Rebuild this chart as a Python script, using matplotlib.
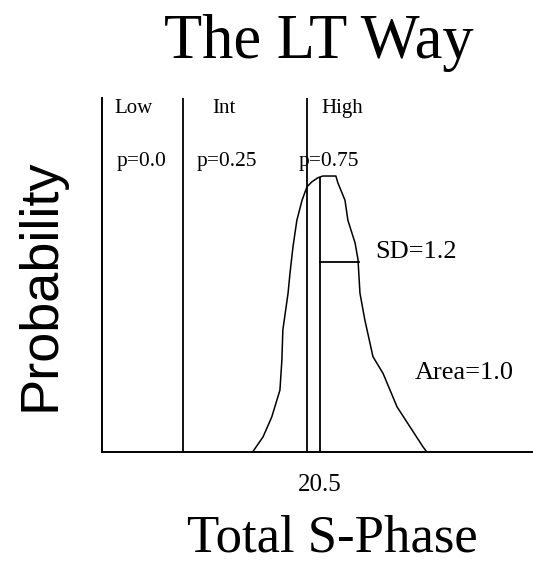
import matplotlib
matplotlib.use("Agg")
import matplotlib.pyplot as plt
import numpy as np

# density curve traced as (x, y) pairs
curve_x = [18.43, 18.75, 19.02, 19.27, 19.33, 19.36, 19.52, 19.58, 19.67, 19.79,
           19.95, 20.10, 20.25, 20.44, 20.59, 20.99, 21.05, 21.27, 21.36, 21.58,
           21.67, 21.73, 21.88, 22.13, 22.44, 22.87, 23.27, 23.67, 23.79]
curve_y = [0.000, 0.018, 0.042, 0.074, 0.110, 0.146, 0.190, 0.214, 0.245, 0.277,
           0.301, 0.317, 0.323, 0.328, 0.330, 0.330, 0.322, 0.301, 0.277, 0.250,
           0.230, 0.190, 0.158, 0.114, 0.094, 0.054, 0.030, 0.006, 0.000]

mean = 20.5
sd = 1.2
sd_height = 0.227
mean_height = 0.328

# category boundaries and labels
boundaries = [16.28, 20.10]
categories = ["Low", "Int", "High"]
cat_x = [14.78, 17.56, 21.19]
probs = ["p=0.0", "p=0.25", "p=0.75"]
prob_x = [15.01, 17.65, 20.76]

xmin, xmax = 13.8, 27.05
ymax = 0.4233

serif = "Liberation Serif"
sans = "Liberation Sans"

fig = plt.figure(figsize=(5.33, 5.62), dpi=100)
W, H = 533, 562
ax = fig.add_axes([102 / W, (H - 452) / H, (W - 102) / W, (452 - 98) / H])

ax.plot(curve_x, curve_y, color="black", lw=1.1)
ax.plot([mean, mean], [0, mean_height], color="black", lw=1.3)
ax.plot([mean, mean + sd], [sd_height, sd_height], color="black", lw=1.3)
for b in boundaries:
    ax.axvline(b, color="black", lw=1.3)

for name, x in zip(categories, cat_x):
    ax.text(x, 0.411, name, ha="center", va="center", family=serif, fontsize=15)
for name, x in zip(probs, prob_x):
    ax.text(x, 0.347, name, ha="center", va="center", family=serif, fontsize=15.5)

ax.text(22.19, 0.239, "SD=%.1f" % sd, ha="left", va="center", family=serif, fontsize=19)
ax.text(23.42, 0.094, "Area=1.0", ha="left", va="center", family=serif, fontsize=19)

ax.set_xlim(xmin, xmax)
ax.set_ylim(0, ymax)
ax.set_xticks([mean])
ax.set_xticklabels(["20.5"], family=serif, fontsize=18)
ax.tick_params(axis="x", length=0, pad=16)
ax.set_yticks([])
for s in ["top", "right"]:
    ax.spines[s].set_visible(False)
for s in ["left", "bottom"]:
    ax.spines[s].set_linewidth(1.4)

fig.text(319 / W, 1 - 58 / H, "The LT Way", ha="center", va="baseline",
         family=serif, fontsize=45)
fig.text(332 / W, 1 - 551 / H, "Total S-Phase", ha="center", va="baseline",
         family=serif, fontsize=38)
fig.text(40 / W, 1 - 285 / H, "Probability", ha="center", va="center",
         rotation=90, family=sans, fontsize=39)

fig.savefig("out.png", dpi=100)
